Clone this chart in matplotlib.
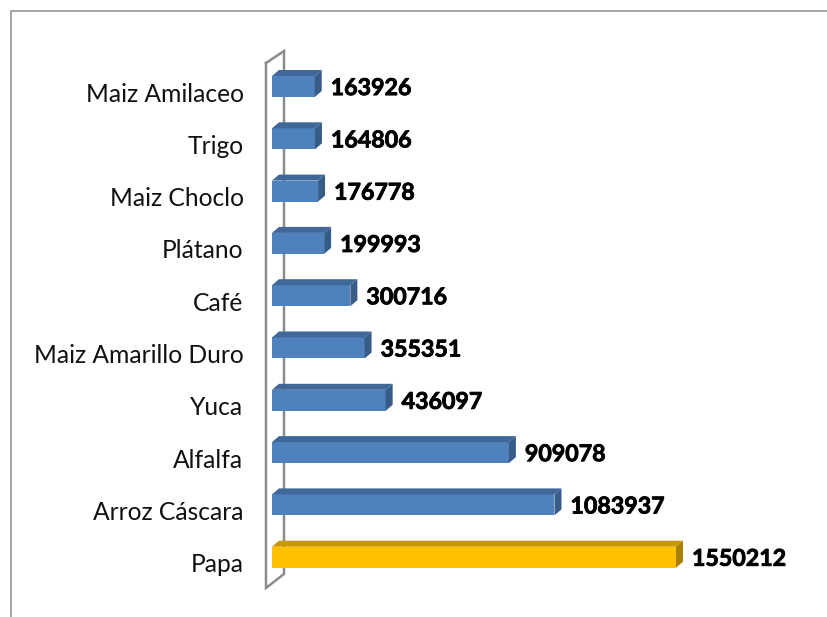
import matplotlib
matplotlib.use("Agg")
import matplotlib.pyplot as plt
import matplotlib.patheffects as pe
from matplotlib.lines import Line2D
from matplotlib.transforms import ScaledTranslation

cultivos = ["Maiz Amilaceo", "Trigo", "Maiz Choclo", "Plátano", "Café",
            "Maiz Amarillo Duro", "Yuca", "Alfalfa", "Arroz Cáscara", "Papa"]
valores = [163926, 164806, 176778, 199993, 300716,
           355351, 436097, 909078, 1083937, 1550212]

W, H = 828, 617
plt.rcParams["font.family"] = ["Lato", "DejaVu Sans"]

fig = plt.figure(figsize=(W / 100, H / 100), dpi=100)


# pixel position (from top left) to figure fraction
def fx(x):
    return x / W


def fy(y):
    return 1 - y / H


# outer frame and the back wall of the 3d chart
gris = "#8c8c8c"
fig.add_artist(Line2D([fx(11), fx(11), fx(828)], [fy(617), fy(11), fy(11)],
                      color=gris, lw=1.1, zorder=-2))
fig.add_artist(Line2D([fx(266), fx(284), fx(284), fx(266), fx(266)],
                      [fy(63), fy(51), fy(574), fy(588), fy(63)],
                      color=gris, lw=1.8, zorder=-1, solid_joinstyle="miter"))

x0, x1 = 272, 676
y_top, paso = 86.5, 52.3
ax = fig.add_axes([fx(x0), fy(y_top + 9.5 * paso), (x1 - x0) / W, 10 * paso / H])
ax.set_xlim(0, valores[-1])
ax.set_ylim(9.5, -0.5)
ax.patch.set_visible(False)
for s in ax.spines.values():
    s.set_visible(False)

alto = 21 / paso
dx = 7 * valores[-1] / (x1 - x0)
dy = 6 / paso

for i, v in enumerate(valores):
    if cultivos[i] == "Papa":
        frente, arriba, lado = "#FFC000", "#C99700", "#A98000"
    else:
        frente, arriba, lado = "#4F81BD", "#3F6797", "#375C88"
    ax.barh(i, v, height=alto, color=frente, edgecolor="none", zorder=3)
    t = i - alto / 2
    b = i + alto / 2
    ax.fill([0, dx, v + dx, v], [t, t - dy, t - dy, t], color=arriba, lw=0, zorder=3, clip_on=False)
    ax.fill([v, v + dx, v + dx, v], [t, t - dy, b - dy, b], color=lado, lw=0, zorder=3, clip_on=False)
    ax.annotate(str(v), (v, i), xytext=(11.5, -1.5), textcoords="offset points",
                ha="left", va="center", fontsize=16.7, fontweight="bold",
                color="black", annotation_clip=False,
                path_effects=[pe.withStroke(linewidth=0.6, foreground="black")])

ax.set_xticks([])
ax.set_yticks(range(len(cultivos)))
ax.set_yticklabels(cultivos, fontsize=17.7, color="#111111")
ax.tick_params(axis="y", length=0, pad=20.5)
# category names sit a little lower than the bars
baja = ScaledTranslation(0, -4 / 72, fig.dpi_scale_trans)
for lab in ax.get_yticklabels():
    lab.set_transform(lab.get_transform() + baja)

fig.savefig("out.png", dpi=100, facecolor="white")
